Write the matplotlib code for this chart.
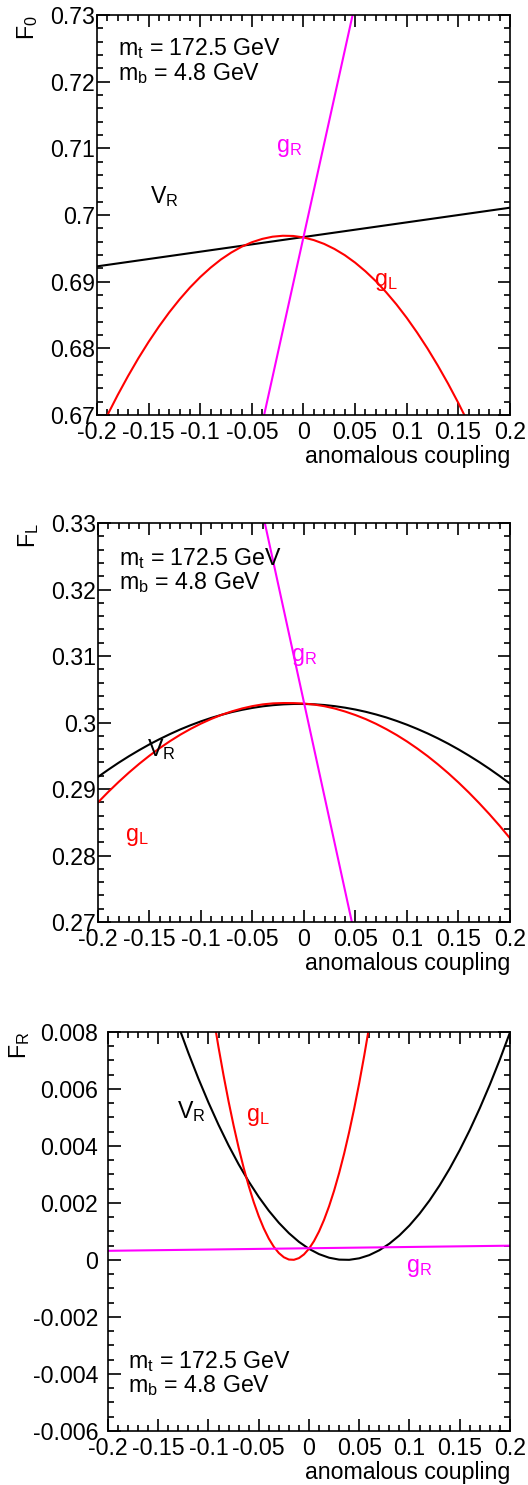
import numpy as np
import matplotlib
matplotlib.use('Agg')
import matplotlib.pyplot as plt
from matplotlib.ticker import MultipleLocator, FuncFormatter

plt.rcParams['font.family'] = ['Liberation Sans', 'DejaVu Sans']
plt.rcParams['mathtext.fontset'] = 'custom'
plt.rcParams['mathtext.rm'] = 'Liberation Sans'
plt.rcParams['mathtext.it'] = 'Liberation Sans'
plt.rcParams['mathtext.bf'] = 'Liberation Sans:bold'
plt.rcParams['axes.unicode_minus'] = False

# anomalous coupling grid
coupling = [-0.20, -0.19, -0.18, -0.17, -0.16, -0.15, -0.14, -0.13, -0.12, -0.11, -0.10,
            -0.09, -0.08, -0.07, -0.06, -0.05, -0.04, -0.03, -0.02, -0.01, 0.00,
            0.01, 0.02, 0.03, 0.04, 0.05, 0.06, 0.07, 0.08, 0.09, 0.10,
            0.11, 0.12, 0.13, 0.14, 0.15, 0.16, 0.17, 0.18, 0.19, 0.20]

# F0
f0_vr_x = [-0.2, -0.1, 0.0, 0.1, 0.2]
f0_vr = [0.6923, 0.6945, 0.6967, 0.6989, 0.7011]
f0_gl_x = coupling[:38]
f0_gl = [0.66676, 0.66996, 0.67299, 0.67583, 0.67850, 0.68098, 0.68328, 0.68541, 0.68735, 0.68912, 0.69070,
         0.69210, 0.69333, 0.69437, 0.69524, 0.69592, 0.69642, 0.69675, 0.69689, 0.69686, 0.69664,
         0.69624, 0.69567, 0.69491, 0.69398, 0.69286, 0.69156, 0.69009, 0.68843, 0.68660, 0.68458,
         0.68238, 0.68001, 0.67745, 0.67472, 0.67180, 0.66870, 0.66543]
f0_gr_x = [-0.05, 0.0, 0.06]
f0_gr = [0.6617, 0.6967, 0.7387]

# FL
fl_vr = [0.29182, 0.29291, 0.29395, 0.29493, 0.29585, 0.29672, 0.29752, 0.29827, 0.29897, 0.29960, 0.30018,
         0.30070, 0.30116, 0.30157, 0.30191, 0.30220, 0.30244, 0.30261, 0.30273, 0.30279, 0.30279,
         0.30274, 0.30263, 0.30246, 0.30223, 0.30195, 0.30161, 0.30121, 0.30076, 0.30024, 0.29967,
         0.29904, 0.29836, 0.29762, 0.29682, 0.29596, 0.29504, 0.29407, 0.29304, 0.29195, 0.29081]
fl_gl = [0.28799, 0.28957, 0.29106, 0.29247, 0.29379, 0.29502, 0.29616, 0.29721, 0.29818, 0.29905, 0.29984,
         0.30054, 0.30116, 0.30168, 0.30212, 0.30247, 0.30273, 0.30288, 0.30293, 0.30292, 0.30285,
         0.30270, 0.30245, 0.30210, 0.30165, 0.30112, 0.30051, 0.29980, 0.29900, 0.29812, 0.29715,
         0.29609, 0.29495, 0.29371, 0.29239, 0.29098, 0.28948, 0.28789, 0.28622, 0.28446, 0.28260]
fl_gr_x = [-0.05, 0.0, 0.05]
fl_gr = [0.3385, 0.3030, 0.2675]

# FR
fr_vr_x = coupling[6:]
fr_vr = [0.009239, 0.008220, 0.007261, 0.006361, 0.005521, 0.004740, 0.004018, 0.003356, 0.002754, 0.002211,
         0.001728, 0.001304, 0.000940, 0.000635, 0.000390, 0.000204, 0.000078, 0.000011, 0.000004, 0.000057,
         0.000169, 0.000340, 0.000571, 0.000861, 0.001211, 0.001621, 0.002090, 0.002618, 0.003206, 0.003854,
         0.004561, 0.005328, 0.006154, 0.007039, 0.007985]
fr_gl_x = [-0.110, -0.105, -0.100, -0.095, -0.090, -0.085, -0.080, -0.075, -0.070, -0.065,
           -0.060, -0.055, -0.050, -0.045, -0.040, -0.035, -0.030, -0.025, -0.020, -0.015,
           -0.010, -0.005, 0.000, 0.005, 0.010, 0.015, 0.020, 0.025, 0.030, 0.035,
           0.040, 0.045, 0.050, 0.055, 0.060, 0.065, 0.070]
fr_gl = [0.012091, 0.010829, 0.009636, 0.008512, 0.007459, 0.006475, 0.005560, 0.004715, 0.003940, 0.003234,
         0.002598, 0.002031, 0.001534, 0.001107, 0.000749, 0.000461, 0.000243, 0.000094, 0.000014, 0.000005,
         0.000064, 0.000194, 0.000393, 0.000662, 0.001000, 0.001408, 0.001885, 0.002432, 0.003049, 0.003735,
         0.004491, 0.005316, 0.006211, 0.007176, 0.008210, 0.009314, 0.010488]
fr_gr_x = [-0.2, 0.0, 0.2]
fr_gr = [0.00032, 0.00041, 0.00050]

FS = 16.7
MAG = '#ff00ff'


def fmt(v, pos):
    s = '%g' % round(v, 6)
    return '0' if s == '-0' else s


def style(ax, ylo, yhi, ymaj, ymin, ylab, ylab_x, ypad):
    ax.set_xlim(-0.2, 0.2)
    ax.set_ylim(ylo, yhi)
    ax.xaxis.set_major_locator(MultipleLocator(0.05))
    ax.xaxis.set_minor_locator(MultipleLocator(0.01))
    ax.yaxis.set_major_locator(MultipleLocator(ymaj))
    ax.yaxis.set_minor_locator(MultipleLocator(ymin))
    ax.xaxis.set_major_formatter(FuncFormatter(fmt))
    ax.yaxis.set_major_formatter(FuncFormatter(fmt))
    ax.tick_params(which='both', direction='in', top=True, right=True, width=1.2, labelsize=FS)
    ax.tick_params(axis='x', which='major', length=8.5, pad=4)
    ax.tick_params(axis='x', which='minor', length=4)
    ax.tick_params(axis='y', which='major', length=9, pad=ypad)
    ax.tick_params(axis='y', which='minor', length=4.5)
    for sp in ax.spines.values():
        sp.set_linewidth(1.2)
    ax.set_xlabel('anomalous coupling', loc='right', fontsize=FS)
    ax.xaxis.set_label_coords(1.0, -0.076)
    ax.set_ylabel(ylab, loc='top', fontsize=FS)
    ax.yaxis.set_label_coords(ylab_x, 1.0)


fig = plt.figure(figsize=(5.28, 14.85), dpi=100)

# F0 panel
ax1 = fig.add_axes([0.1837, 0.7205, 0.7822, 0.2694])
ax1.plot(f0_vr_x, f0_vr, color='black', lw=1.5)
ax1.plot(f0_gl_x, f0_gl, color='red', lw=1.5)
ax1.plot(f0_gr_x, f0_gr, color=MAG, lw=1.5)
style(ax1, 0.67, 0.73, 0.01, 0.002, r'$\mathrm{F_{0}}$', -0.137, 1.5)
ax1.text(-0.18, 0.725, r'$\mathrm{m_{t}}$ = 172.5 GeV', fontsize=FS, va='center')
ax1.text(-0.18, 0.7212, r'$\mathrm{m_{b}}$ = 4.8 GeV', fontsize=FS, va='center')
ax1.text(-0.135, 0.7028, r'$\mathrm{V_{R}}$', fontsize=FS, ha='center', va='center')
ax1.text(-0.014, 0.7101, r'$\mathrm{g_{R}}$', fontsize=FS, ha='center', va='center', color=MAG)
ax1.text(0.080, 0.6900, r'$\mathrm{g_{L}}$', fontsize=FS, ha='center', va='center', color='red')

# FL panel
ax2 = fig.add_axes([0.1856, 0.3791, 0.7803, 0.2687])
ax2.plot(coupling, fl_vr, color='black', lw=1.5)
ax2.plot(coupling, fl_gl, color='red', lw=1.5)
ax2.plot(fl_gr_x, fl_gr, color=MAG, lw=1.5)
style(ax2, 0.27, 0.33, 0.01, 0.002, r'$\mathrm{F_{L}}$', -0.139, 1.5)
ax2.text(-0.18, 0.3247, r'$\mathrm{m_{t}}$ = 172.5 GeV', fontsize=FS, va='center')
ax2.text(-0.18, 0.3210, r'$\mathrm{m_{b}}$ = 4.8 GeV', fontsize=FS, va='center')
ax2.text(-0.138, 0.2959, r'$\mathrm{V_{R}}$', fontsize=FS, ha='center', va='center')
ax2.text(0.000, 0.3099, r'$\mathrm{g_{R}}$', fontsize=FS, ha='center', va='center', color=MAG)
ax2.text(-0.162, 0.2828, r'$\mathrm{g_{L}}$', fontsize=FS, ha='center', va='center', color='red')

# FR panel
ax3 = fig.add_axes([0.2045, 0.0364, 0.7614, 0.2687])
ax3.plot(fr_vr_x, fr_vr, color='black', lw=1.5)
ax3.plot(fr_gl_x, fr_gl, color='red', lw=1.5)
ax3.plot(fr_gr_x, fr_gr, color=MAG, lw=1.5)
style(ax3, -0.006, 0.008, 0.002, 0.0005, r'$\mathrm{F_{R}}$', -0.19, 7)
ax3.text(-0.18, -0.00358, r'$\mathrm{m_{t}}$ = 172.5 GeV', fontsize=FS, va='center')
ax3.text(-0.18, -0.00442, r'$\mathrm{m_{b}}$ = 4.8 GeV', fontsize=FS, va='center')
ax3.text(-0.117, 0.00519, r'$\mathrm{V_{R}}$', fontsize=FS, ha='center', va='center')
ax3.text(-0.051, 0.00502, r'$\mathrm{g_{L}}$', fontsize=FS, ha='center', va='center', color='red')
ax3.text(0.110, -0.00028, r'$\mathrm{g_{R}}$', fontsize=FS, ha='center', va='center', color=MAG)

fig.savefig('out.png', dpi=100)
